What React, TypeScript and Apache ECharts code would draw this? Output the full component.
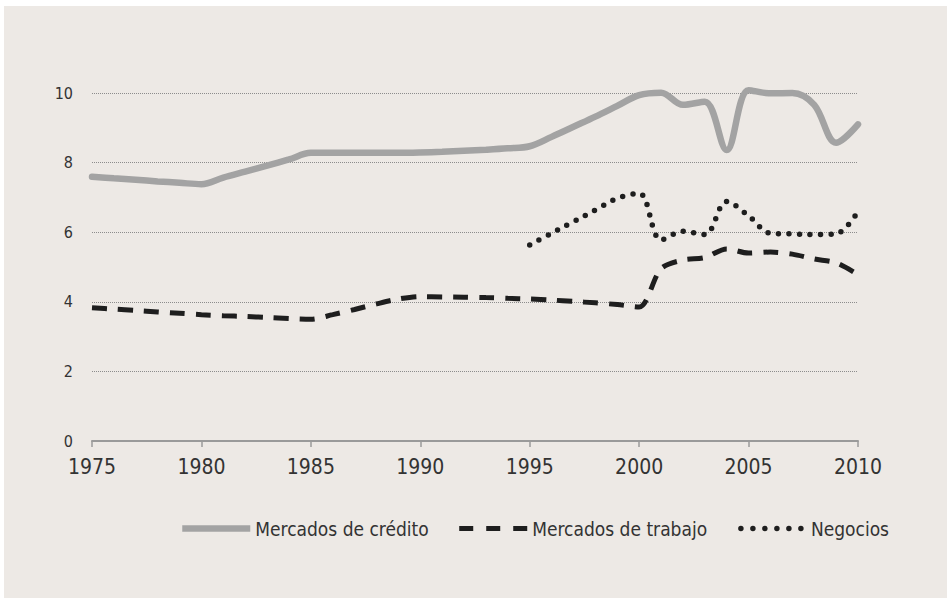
import React, { useEffect, useRef } from "react";
import * as echarts from "echarts";

const years = [
  1975, 1976, 1977, 1978, 1979, 1980, 1981, 1982, 1983, 1984, 1985, 1986,
  1987, 1988, 1989, 1990, 1991, 1992, 1993, 1994, 1995, 1996, 1997, 1998,
  1999, 2000, 2001, 2002, 2003, 2004, 2005, 2006, 2007, 2008, 2009, 2010,
];

const creditValues = [
  7.59, 7.55, 7.51, 7.46, 7.42, 7.38, 7.57, 7.74, 7.91, 8.09, 8.28, 8.28,
  8.28, 8.28, 8.28, 8.29, 8.31, 8.34, 8.37, 8.41, 8.47, 8.74, 9.03, 9.32,
  9.63, 9.94, 10.01, 9.66, 9.75, 8.36, 10.08, 9.99, 10.0, 9.66, 8.57, 9.1,
];

const labourValues = [
  3.83, 3.79, 3.75, 3.71, 3.67, 3.63, 3.6, 3.58, 3.55, 3.52, 3.5, 3.63,
  3.78, 3.94, 4.08, 4.15, 4.14, 4.13, 4.12, 4.1, 4.08, 4.05, 4.01, 3.97,
  3.92, 3.85, 4.95, 5.2, 5.27, 5.52, 5.4, 5.43, 5.37, 5.23, 5.12, 4.78,
];

const businessYears = [
  1995, 1996, 1997, 1998, 1999, 2000, 2001, 2002, 2003, 2004, 2005, 2006,
  2007, 2008, 2009, 2010,
];
const businessValues = [
  5.63, 5.97, 6.3, 6.64, 6.97, 7.12, 5.78, 6.03, 5.93, 6.88, 6.47, 5.97,
  5.95, 5.93, 5.95, 6.6,
];

const seriesNames = ["Mercados de crédito", "Mercados de trabajo", "Negocios"];

const FONT = "'DejaVu Sans Condensed', 'Liberation Sans Narrow', sans-serif";

export default function App() {
  const ref = useRef<HTMLDivElement>(null);

  useEffect(() => {
    if (!ref.current) return;
    const chart = echarts.init(ref.current, undefined, { renderer: "svg" });

    const creditData = years.map((y, i) => [y, creditValues[i]]);
    const labourData = years.map((y, i) => [y, labourValues[i]]);
    const businessData = businessYears.map((y, i) => [y, businessValues[i]]);

    const creditStyle = { color: "#a3a3a3", width: 6.5, type: "solid" as const, cap: "round" as const };
    const labourStyle = { color: "#1e1e1e", width: 5, type: [15, 11], cap: "butt" as const };
    const businessStyle = { color: "#1e1e1e", width: 5.5, type: [0, 10.5], cap: "round" as const };

    chart.setOption({
      animation: false,
      backgroundColor: "#ede9e5",
      grid: { left: 88, right: 89, top: 87, bottom: 157, containLabel: false },
      legend: {
        left: 170,
        top: 508,
        width: 800,
        itemWidth: 68,
        itemHeight: 14,
        itemGap: 28,
        textStyle: { fontFamily: FONT, fontSize: 19, color: "#333333" },
        data: [
          { name: seriesNames[0], itemStyle: { opacity: 0 }, lineStyle: { ...creditStyle, cap: "butt" } },
          { name: seriesNames[1], itemStyle: { opacity: 0 }, lineStyle: { ...labourStyle, type: [14, 13] } },
          { name: seriesNames[2], itemStyle: { opacity: 0 }, lineStyle: { ...businessStyle, type: [0, 12], dashOffset: -3 } },
        ],
      },
      xAxis: {
        type: "value",
        min: 1975,
        max: 2010,
        interval: 5,
        axisLine: { show: true, lineStyle: { color: "#9a9a9a", width: 2 } },
        axisTick: { show: true, length: 6, lineStyle: { color: "#9a9a9a", width: 1.5 } },
        splitLine: { show: false },
        axisLabel: {
          fontFamily: FONT,
          fontSize: 21,
          color: "#333333",
          margin: 15,
          formatter: (v: number) => String(v),
        },
      },
      yAxis: {
        type: "value",
        min: 0,
        max: 10,
        interval: 2,
        axisLine: { show: false },
        axisTick: { show: false },
        splitLine: { show: true, lineStyle: { color: "#8c8c8c", width: 1, type: "dotted" } },
        axisLabel: { fontFamily: FONT, fontSize: 16, color: "#333333", margin: 19 },
      },
      series: [
        {
          name: seriesNames[0],
          type: "line",
          data: creditData,
          symbol: "none",
          smooth: 0.35,
          clip: false,
          lineStyle: creditStyle,
          itemStyle: { color: "#a3a3a3" },
          z: 3,
        },
        {
          name: seriesNames[1],
          type: "line",
          data: labourData,
          symbol: "none",
          smooth: 0.3,
          clip: false,
          lineStyle: labourStyle,
          itemStyle: { color: "#1e1e1e" },
          z: 4,
        },
        {
          name: seriesNames[2],
          type: "line",
          data: businessData,
          symbol: "none",
          smooth: 0.35,
          clip: false,
          lineStyle: businessStyle,
          itemStyle: { color: "#1e1e1e" },
          z: 5,
        },
      ],
    });

    return () => chart.dispose();
  }, []);

  return (
    <div
      ref={ref}
      style={{ position: "fixed", left: 4, top: 6, width: 943, height: 592 }}
    />
  );
}
